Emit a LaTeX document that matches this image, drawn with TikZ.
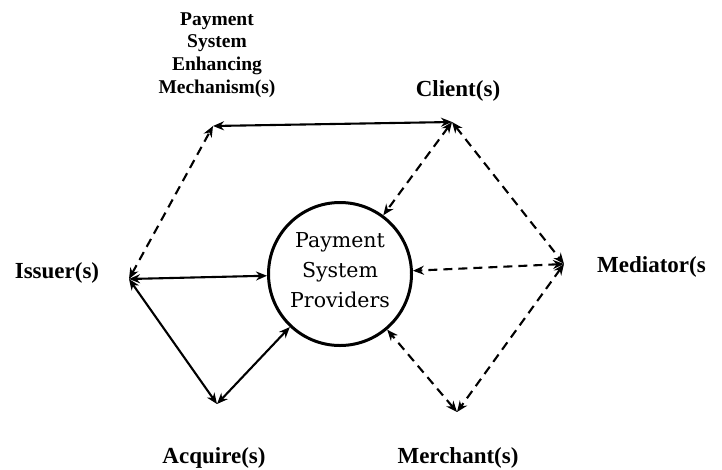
\documentclass[tikz,border=0pt]{standalone}
\usepackage{fontspec}
\setmainfont{Liberation Serif}
\newfontfamily\hubfont{DejaVu Serif}
\usetikzlibrary{arrows.meta}
\begin{document}
\begin{tikzpicture}[x=1pt,y=-1pt,
  link/.style={line width=2.1pt,{Stealth[length=11pt,width=9pt]}-{Stealth[length=11pt,width=9pt]}},
  dlink/.style={link,dash pattern=on 9pt off 6pt},
  lbl/.style={font=\fontsize{23}{26}\selectfont\bfseries,inner sep=0pt},
  hub/.style={circle,draw,line width=3pt,minimum size=143pt,inner sep=0pt}]
\useasboundingbox (0,0) rectangle (722,469);
% central provider hub
\node[hub] (c) at (340,274) {};
\node[align=center,font=\hubfont\fontsize{20.5}{30}\selectfont,inner sep=0pt] (ctext) at (340,270) {Payment\\System\\Providers};
% end points of the connectors
\coordinate (psem) at (213,126);
\coordinate (cli) at (452,122);
\coordinate (med) at (564,264);
\coordinate (mer) at (457,412);
\coordinate (acq) at (217,404);
\coordinate (iss) at (129,279);
% labels
\node[lbl,align=center,font=\fontsize{19.5}{22.8}\selectfont\bfseries] (tpsem) at (217,55) {Payment\\System\\Enhancing\\Mechanism(s)};
\node[lbl] (tcli) at (458,91) {Client(s)};
\node[lbl,anchor=west] (tmed) at (597,267) {Mediator(s};
\node[lbl] (tiss) at (57,273) {Issuer(s)};
\node[lbl] (tacq) at (214,458) {Acquire(s)};
\node[lbl] (tmer) at (458,458) {Merchant(s)};
% solid connectors
\draw[link] (psem) -- (cli);
\draw[link] (iss) -- (c);
\draw[link] (iss) -- (acq);
\draw[link] (acq) -- (c);
% dashed connectors
\draw[dlink] (iss) -- (psem);
\draw[dlink] (cli) -- (c);
\draw[dlink] (cli) -- (med);
\draw[dlink] (med) -- (c);
\draw[dlink] (med) -- (mer);
\draw[dlink] (mer) -- (c);
\end{tikzpicture}
\end{document}
